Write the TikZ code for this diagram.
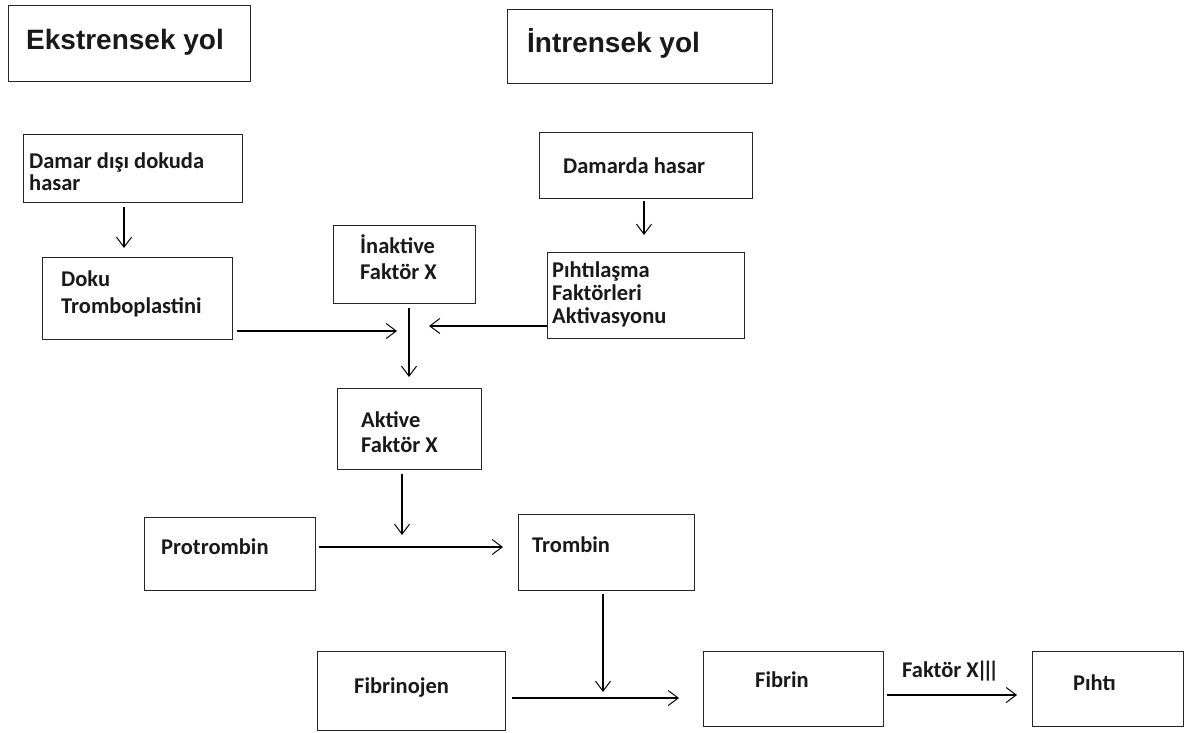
\documentclass[tikz,border=0pt]{standalone}
\usepackage{fontspec}
\setmainfont{Liberation Sans}
\newfontfamily\bodyf{Carlito}
\newfontfamily\titlef{Liberation Sans}
\usetikzlibrary{arrows.meta}
\tikzset{
  box/.style={draw=black!85, line width=1.4pt, inner sep=0pt, anchor=north west},
  txt/.style={anchor=base west, inner sep=0pt, align=left, text=black!90,
    font=\bodyf\bfseries\fontsize{22.5}{24}\selectfont},
  ttl/.style={anchor=base west, inner sep=0pt, text=black!90,
    font=\titlef\bfseries\fontsize{28}{30}\selectfont},
  arr/.style={draw=black, line width=1.1pt, -{Straight Barb[length=10pt,width=15pt,line width=1pt]}},
}
\begin{document}
\begin{tikzpicture}[x=1pt,y=-1pt]
\useasboundingbox (0,0) rectangle (1202,733);
\fill[white] (0,0) rectangle (1202,733);
% boxes
\node[box, minimum width=242, minimum height=76] (ekst) at (8,5) {};
\node[box, minimum width=265, minimum height=74] (intr) at (507,9) {};
\node[box, minimum width=219, minimum height=68] (damar) at (23,134) {};
\node[box, minimum width=190, minimum height=82] (doku) at (42,257) {};
\node[box, minimum width=142, minimum height=78] (inakt) at (333,225) {};
\node[box, minimum width=213, minimum height=66] (damarda) at (539,132) {};
\node[box, minimum width=197, minimum height=86] (pihtf) at (547,252) {};
\node[box, minimum width=144, minimum height=81] (aktive) at (337,388) {};
\node[box, minimum width=171, minimum height=73] (protr) at (144,517) {};
\node[box, minimum width=176, minimum height=76] (tromb) at (518,514) {};
\node[box, minimum width=188, minimum height=79] (fibj) at (317,651) {};
\node[box, minimum width=180, minimum height=75] (fibrin) at (703,651) {};
\node[box, minimum width=151, minimum height=75] (pihti) at (1032,651) {};
% texts (base anchor = baseline of the last line)
\node[ttl] (tekst) at (26,50) {Ekstrensek yol};
\node[ttl] (tintr) at (527,53) {İntrensek yol};
\node[txt, font=\bodyf\bfseries\fontsize{22.5}{22}\selectfont] (tdamar) at (29,190) {Damar dışı dokuda\\hasar};
\node[txt, font=\bodyf\bfseries\fontsize{22.5}{27}\selectfont] (tdoku) at (61,313) {Doku\\Tromboplastini};
\node[txt, font=\bodyf\bfseries\fontsize{22.5}{26}\selectfont] (tinakt) at (360,279) {İnaktive\\Faktör X};
\node[txt] (tdamarda) at (563,173) {Damarda hasar};
\node[txt, font=\bodyf\bfseries\fontsize{22.5}{23}\selectfont] (tpihtf) at (552,323) {Pıhtılaşma\\Faktörleri\\Aktivasyonu};
\node[txt, font=\bodyf\bfseries\fontsize{22.5}{25}\selectfont] (taktive) at (361,452) {Aktive\\Faktör X};
\node[txt] (tprotr) at (161,554) {Protrombin};
\node[txt] (ttromb) at (532,552) {Trombin};
\node[txt] (tfibj) at (354,693) {Fibrinojen};
\node[txt] (tfibrin) at (755,687) {Fibrin};
\node[txt] (tpihti) at (1073,690) {Pıhtı};
\node[txt] (lf13) at (902,677) {Faktör X\kern-2pt|\kern-5pt|\kern-5pt|};
% free ends / guide coordinates
\coordinate (c1) at (124,0);
\coordinate (c2) at (644,0);
\coordinate (c3) at (409,0);
\coordinate (c4) at (402,0);
\coordinate (c5) at (603,0);
\coordinate (r1) at (0,331);
\coordinate (r2) at (0,326);
\coordinate (r3) at (0,547);
\coordinate (r4) at (0,698);
\coordinate (r5) at (0,695);
\coordinate (j1) at (397,331);
\coordinate (j2) at (429,326);
\coordinate (j3) at (402,535);
\coordinate (j4) at (603,692);
% connectors
\draw[arr, shorten <=4pt, shorten >=9pt] (damar.south -| c1) -- (doku.north -| c1);
\draw[arr, shorten <=2pt, shorten >=17pt] (damarda.south -| c2) -- (pihtf.north -| c2);
\draw[arr, shorten <=4pt] (doku.east |- r1) -- (j1);
\draw[arr] (pihtf.west |- r2) -- (j2);
\draw[arr, shorten <=4pt, shorten >=11pt] (inakt.south -| c3) -- (aktive.north -| c3);
\draw[arr, shorten <=4pt] (aktive.south -| c4) -- (j3);
\draw[arr, shorten <=3pt, shorten >=15pt] (protr.east |- r3) -- (tromb.west |- r3);
\draw[arr, shorten <=3pt] (tromb.south -| c5) -- (j4);
\draw[arr, shorten <=6pt, shorten >=24pt] (fibj.east |- r4) -- (fibrin.west |- r4);
\draw[arr, shorten <=3pt, shorten >=15pt] (fibrin.east |- r5) -- (pihti.west |- r5);
\end{tikzpicture}
\end{document}
